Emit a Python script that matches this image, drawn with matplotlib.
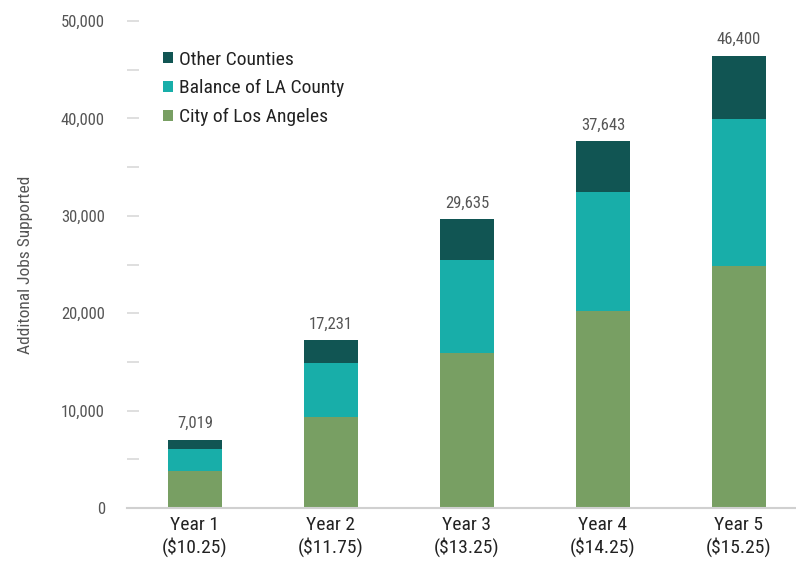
import numpy as np
import matplotlib.pyplot as plt
from matplotlib import font_manager

# 데이터
years = ['Year 1\n($10.25)', 'Year 2\n($11.75)', 'Year 3\n($13.25)', 'Year 4\n($14.25)', 'Year 5\n($15.25)']
city_la = [3800, 9350, 15900, 20200, 24850]
balance_la = [2260, 5540, 9550, 12250, 15100]
totals = [7019, 17231, 29635, 37643, 46400]
other_counties = [t - c - b for t, c, b in zip(totals, city_la, balance_la)]

names = {f.name for f in font_manager.fontManager.ttflist}
fam = [f for f in ['Liberation Sans Narrow', 'Roboto Condensed', 'Liberation Sans'] if f in names] + ['DejaVu Sans']
plt.rcParams['font.family'] = fam

fig = plt.figure(figsize=(7.96, 5.67), dpi=100)
ax = fig.add_axes([127 / 796, 1 - 508 / 567, 669 / 796, 487 / 567])

x = np.arange(len(years))
w = 0.4
c_city, c_bal, c_oth = '#789f63', '#18aea9', '#115553'
ax.bar(x, city_la, w, color=c_city, label='City of Los Angeles')
ax.bar(x, balance_la, w, bottom=city_la, color=c_bal, label='Balance of LA County')
bot2 = [c + b for c, b in zip(city_la, balance_la)]
ax.bar(x, other_counties, w, bottom=bot2, color=c_oth, label='Other Counties')

for xi, t in zip(x, totals):
    ax.text(xi, t + 900, f'{t:,}', ha='center', va='bottom', fontsize=12, color='#555555', clip_on=False)

ax.set_xlim(-0.5, 4.42)
ax.set_ylim(0, 50000)
ax.set_yticks(np.arange(0, 50001, 10000))
ax.set_yticks(np.arange(5000, 50000, 10000), minor=True)
ax.set_yticklabels([f'{v:,}' for v in range(0, 50001, 10000)])
ax.tick_params(axis='y', which='both', direction='in', length=8.5, width=1.2, color='#d9d9d9',
               labelsize=12, labelcolor='#555555', pad=16)
ax.set_xticks(x)
ax.set_xticklabels(years)
ax.tick_params(axis='x', length=0, labelsize=14, labelcolor='#222222', pad=6)

for s in ['top', 'right', 'left']:
    ax.spines[s].set_visible(False)
ax.spines['bottom'].set_color('#d0d0d0')
ax.spines['bottom'].set_linewidth(1.5)

ax.set_ylabel('Additonal Jobs Supported', fontsize=12.5, color='#555555', labelpad=20)

h, l = ax.get_legend_handles_labels()
ax.legend(h[::-1], l[::-1], loc='upper left', bbox_to_anchor=(0.028, 0.975), frameon=False,
          fontsize=14, handlelength=0.5, handleheight=0.5, handletextpad=0.3,
          labelspacing=0.55, labelcolor='#222222')

plt.savefig('out.png', dpi=100)
